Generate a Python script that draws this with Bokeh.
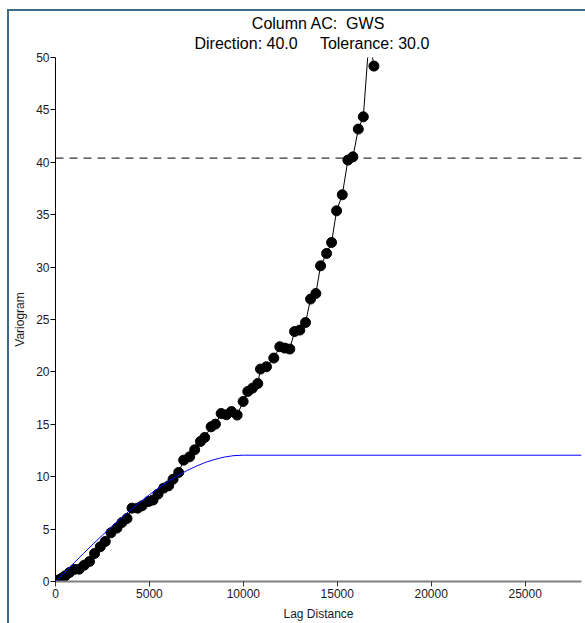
from bokeh.plotting import figure
from bokeh.models import Range1d, Span, Title, InlineStyleSheet
from bokeh.embed import file_html
from bokeh.resources import INLINE

# ---- data ----
lag = [107, 341, 517, 746, 997, 1263, 1530, 1812, 2079, 2383, 2649, 2953, 3273,
       3539, 3806, 4072, 4371, 4606, 4957, 5192, 5458, 5757, 6023, 6258, 6557,
       6823, 7143, 7409, 7713, 7942, 8284, 8513, 8817, 9099, 9366, 9670, 9989,
       10235, 10485, 10768, 10912, 11231, 11620, 11940, 12207, 12473, 12724,
       13006, 13310, 13577, 13859, 14110, 14430, 14696, 14963, 15267, 15565,
       15832, 16119, 16386, 16700, 16951]
gamma = [0.13, 0.32, 0.54, 0.86, 1.15, 1.18, 1.56, 1.91, 2.67, 3.31, 3.82, 4.65,
         5.10, 5.63, 6.01, 7.00, 7.00, 7.22, 7.63, 7.77, 8.34, 8.91, 9.13, 9.75,
         10.40, 11.58, 11.90, 12.57, 13.36, 13.74, 14.76, 15.02, 16.03, 15.91,
         16.22, 15.88, 17.18, 18.13, 18.45, 18.89, 20.27, 20.49, 21.32, 22.40,
         22.27, 22.18, 23.85, 23.99, 24.71, 26.95, 27.48, 30.12, 31.30, 32.35,
         35.37, 36.90, 40.21, 40.52, 43.17, 44.34, 52.0, 49.18]

model_lag = [0, 500, 1000, 1500, 2000, 2500, 3000, 3500, 4000, 4500, 5000, 5500,
             6000, 6500, 7000, 7500, 8000, 8500, 9000, 9500, 10000, 28000]
model_gamma = [0.0, 0.90, 1.80, 2.69, 3.57, 4.42, 5.26, 6.07, 6.84, 7.58, 8.28,
               8.94, 9.54, 10.09, 10.59, 11.01, 11.38, 11.66, 11.88, 12.01, 12.05,
               12.05]

sample_variance = 40.4

x_ticks = [0, 5000, 10000, 15000, 20000, 25000]
y_ticks = [0, 5, 10, 15, 20, 25, 30, 35, 40, 45, 50]

title_line1 = "Column AC:\u00a0\u00a0GWS"
title_line2 = "Direction: 40.0\u00a0\u00a0\u00a0\u00a0\u00a0Tolerance: 30.0"
x_label = "Lag Distance"
y_label = "Variogram"

FONT = "Liberation Sans"
W, H = 585, 623

p = figure(width=W, height=H, output_backend="svg", toolbar_location=None,
           x_range=Range1d(0, 28000), y_range=Range1d(0, 50),
           min_border_left=55, min_border_right=4, min_border_bottom=42,
           min_border_top=57, x_axis_label=x_label, y_axis_label=y_label)

p.outline_line_color = None
p.grid.visible = False
p.background_fill_color = "white"
p.border_fill_color = "white"

# two-line title (first added sits nearest the frame)
t2 = Title(text=title_line2, align="left", offset=139, vertical_align="top",
           text_font=FONT, text_font_size="16px", text_font_style="normal",
           text_color="black", standoff=7)
t1 = Title(text=title_line1, align="center", vertical_align="bottom",
           text_font=FONT, text_font_size="16px", text_font_style="normal",
           text_color="black", standoff=0)
p.add_layout(t2, "above")
p.add_layout(t1, "above")

# axes
xa = p.xaxis[0]
xa.ticker = x_ticks
xa.axis_line_color = "#808080"
xa.axis_line_width = 2
xa.major_tick_line_color = "#333333"
xa.major_tick_out = 5
xa.major_tick_in = 0
xa.minor_tick_out = 0
xa.minor_tick_in = 0
xa.major_label_standoff = 2
xa.axis_label_standoff = 6

ya = p.yaxis[0]
ya.ticker = y_ticks
ya.axis_line_color = "black"
ya.axis_line_width = 1
ya.major_tick_line_color = "black"
ya.major_tick_out = 5
ya.major_tick_in = 0
ya.minor_tick_out = 0
ya.minor_tick_in = 0
ya.major_label_standoff = 1
ya.axis_label_standoff = 6

for ax in (xa, ya):
    ax.major_label_text_font = FONT
    ax.major_label_text_font_size = "12px"
    ax.major_label_text_color = "#1a1a1a"
    ax.axis_label_text_font = FONT
    ax.axis_label_text_font_size = "12px"
    ax.axis_label_text_font_style = "normal"
    ax.axis_label_text_color = "#1a1a1a"

# experimental variogram
p.line(lag, gamma, line_color="black", line_width=1)
p.scatter(lag, gamma, size=10, fill_color="black", line_color="black")

# model
p.line(model_lag, model_gamma, line_color="#0000ff", line_width=1)

# sample variance
p.add_layout(Span(location=sample_variance, dimension="width", line_color="black",
                  line_width=1, line_dash="8 6"))

# window frame (top and left edges only)
p.stylesheets = [InlineStyleSheet(css=(
    ":host::before { content: ''; position: absolute; left: 7px; top: 9px; "
    "width: 600px; height: 640px; border: none; box-shadow: none; "
    "border-left: 2px solid #3d6a85; border-top: 2px solid #3d6a85; "
    "z-index: 100; pointer-events: none; }"
    ":host { overflow: hidden; }"))]

open("out.html", "w").write(file_html(p, INLINE))
